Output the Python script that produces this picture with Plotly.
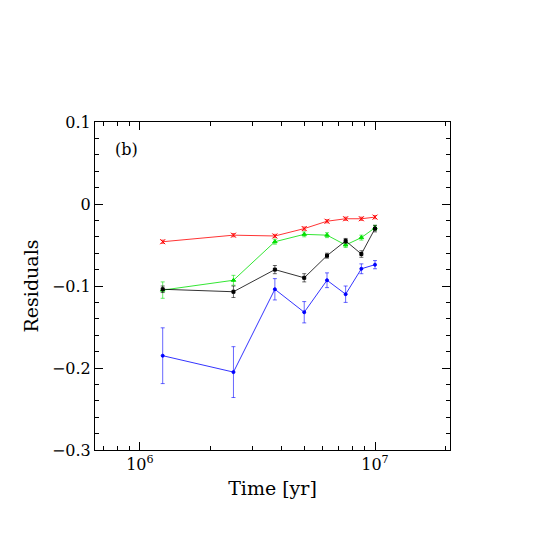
import plotly.graph_objects as go

time_yr = [1.25e6, 2.5e6, 3.75e6, 5e6, 6.25e6, 7.5e6, 8.75e6, 1e7]

red_vals = [-0.046, -0.038, -0.039, -0.030, -0.021, -0.018, -0.018, -0.016]
red_err = [0.002, 0.002, 0.002, 0.002, 0.002, 0.002, 0.002, 0.002]
green_vals = [-0.105, -0.093, -0.046, -0.037, -0.038, -0.050, -0.041, -0.029]
green_err = [0.010, 0.006, 0.003, 0.003, 0.003, 0.003, 0.003, 0.003]
black_vals = [-0.104, -0.107, -0.080, -0.090, -0.063, -0.045, -0.061, -0.030]
black_err = [0.004, 0.007, 0.005, 0.005, 0.003, 0.003, 0.004, 0.004]
blue_vals = [-0.185, -0.205, -0.104, -0.132, -0.093, -0.110, -0.079, -0.074]
blue_err = [0.034, 0.031, 0.013, 0.013, 0.009, 0.010, 0.006, 0.005]

series = [
    (red_vals, red_err, "red", "x-thin", 5),
    (green_vals, green_err, "#00e000", "triangle-up", 4),
    (black_vals, black_err, "black", "square", 3),
    (blue_vals, blue_err, "blue", "circle", 3),
]

fig = go.Figure()
for vals, err, col, sym, size in series:
    fig.add_trace(go.Scatter(
        x=time_yr, y=vals, mode="lines+markers",
        line=dict(color=col, width=0.8),
        marker=dict(color=col, symbol=sym, size=size, line=dict(color=col, width=1)),
        error_y=dict(type="data", array=err, color=col, thickness=0.6, width=2),
    ))

axis_common = dict(showline=True, linecolor="black", linewidth=1, mirror="allticks",
                   ticks="inside", ticklen=8, tickcolor="black", showgrid=False,
                   zeroline=False)

fig.update_layout(
    width=545, height=545,
    margin=dict(l=87, r=103, t=114, b=103),
    plot_bgcolor="white", paper_bgcolor="white",
    showlegend=False,
    font=dict(family="DejaVu Serif, serif", size=16, color="black"),
    xaxis=dict(type="log", range=[5.809, 7.319], tickvals=[1e6, 1e7],
               ticktext=["10<sup>6</sup>", "10<sup>7</sup>"],
               title=dict(text="Time [yr]", standoff=8),
               minor=dict(ticks="inside", ticklen=4, tickcolor="black", dtick="D1"),
               **axis_common),
    yaxis=dict(range=[-0.3, 0.1], tickvals=[-0.3, -0.2, -0.1, 0, 0.1],
               ticktext=["−0.3", "−0.2", "−0.1", "0", "0.1"],
               title=dict(text="Residuals", standoff=8),
               minor=dict(ticks="inside", ticklen=4, tickcolor="black", dtick=0.02),
               **axis_common),
    annotations=[dict(text="(b)", x=0.05, y=0.95, xref="paper", yref="paper",
                      showarrow=False, xanchor="left", yanchor="top",
                      font=dict(size=16))],
)

fig.write_html("out.html")
